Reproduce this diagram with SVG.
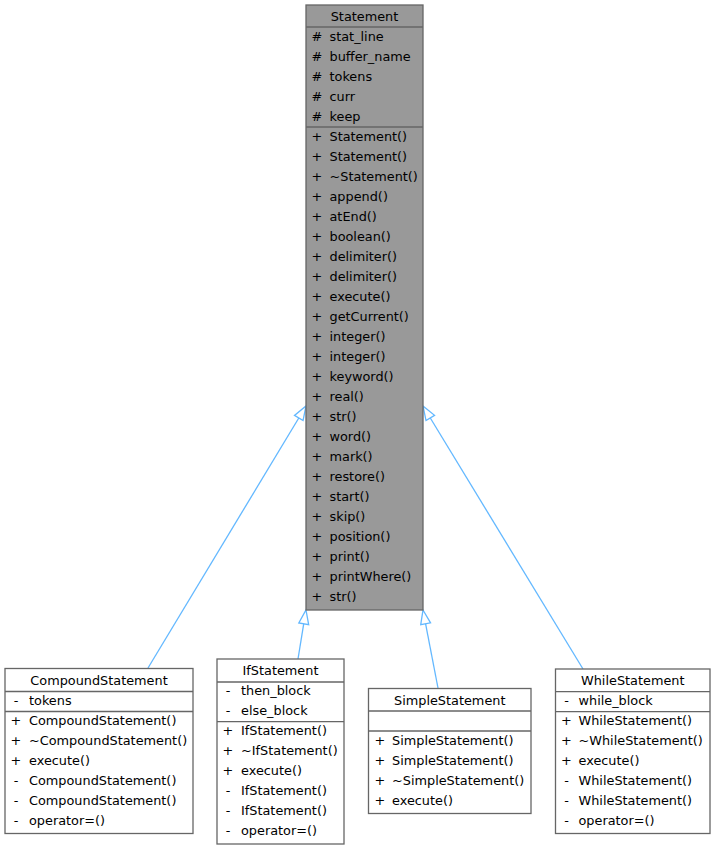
<svg xmlns="http://www.w3.org/2000/svg" width="715" height="849" viewBox="0 0 715 849">
<style>
text{font-family:"DejaVu Sans",sans-serif;font-size:12.85px;fill:#000}
.t{text-anchor:middle}
.s{text-anchor:middle}
.box{fill:#fff;stroke:#666;stroke-width:1.3}
.base{fill:#999;stroke:#666;stroke-width:1.3}
.div{stroke:#666;stroke-width:1.3}
.edge{fill:none;stroke:#63b8ff;stroke-width:1.3}
.head{fill:none;stroke:#63b8ff;stroke-width:1.3}
</style>
<rect width="715" height="849" fill="#fff"/>
<g id="edges">
<path class="edge" d="M148,668 L298.8,418"/>
<polygon class="head" points="306,406 303.05,420.57 294.49,415.41"/>
<path class="edge" d="M298,659 L303.7,623.8"/>
<polygon class="head" points="306,610 308.67,624.63 298.81,623.01"/>
<path class="edge" d="M438,688 L425.6,623.8"/>
<polygon class="head" points="423,610 430.55,622.81 420.73,624.69"/>
<path class="edge" d="M583,669 L430.3,418"/>
<polygon class="head" points="423,406 434.55,415.36 426.01,420.56"/>
</g>
<g id="Statement">
<rect class="base" x="306" y="5" width="117" height="605"/>
<line class="div" x1="306" y1="27" x2="423" y2="27"/>
<line class="div" x1="306" y1="127" x2="423" y2="127"/>
<text class="t" x="364.5" y="20.5">Statement</text>
<g>
<text class="s" x="317" y="40.5">#</text><text x="329.5" y="40.5">stat_line</text>
<text class="s" x="317" y="60.5">#</text><text x="329.5" y="60.5">buffer_name</text>
<text class="s" x="317" y="80.5">#</text><text x="329.5" y="80.5">tokens</text>
<text class="s" x="317" y="100.5">#</text><text x="329.5" y="100.5">curr</text>
<text class="s" x="317" y="120.5">#</text><text x="329.5" y="120.5">keep</text>
<text class="s" x="317" y="140.5">+</text><text x="329.5" y="140.5">Statement()</text>
<text class="s" x="317" y="160.5">+</text><text x="329.5" y="160.5">Statement()</text>
<text class="s" x="317" y="180.5">+</text><text x="329.5" y="180.5">~Statement()</text>
<text class="s" x="317" y="200.5">+</text><text x="329.5" y="200.5">append()</text>
<text class="s" x="317" y="220.5">+</text><text x="329.5" y="220.5">atEnd()</text>
<text class="s" x="317" y="240.5">+</text><text x="329.5" y="240.5">boolean()</text>
<text class="s" x="317" y="260.5">+</text><text x="329.5" y="260.5">delimiter()</text>
<text class="s" x="317" y="280.5">+</text><text x="329.5" y="280.5">delimiter()</text>
<text class="s" x="317" y="300.5">+</text><text x="329.5" y="300.5">execute()</text>
<text class="s" x="317" y="320.5">+</text><text x="329.5" y="320.5">getCurrent()</text>
<text class="s" x="317" y="340.5">+</text><text x="329.5" y="340.5">integer()</text>
<text class="s" x="317" y="360.5">+</text><text x="329.5" y="360.5">integer()</text>
<text class="s" x="317" y="380.5">+</text><text x="329.5" y="380.5">keyword()</text>
<text class="s" x="317" y="400.5">+</text><text x="329.5" y="400.5">real()</text>
<text class="s" x="317" y="420.5">+</text><text x="329.5" y="420.5">str()</text>
<text class="s" x="317" y="440.5">+</text><text x="329.5" y="440.5">word()</text>
<text class="s" x="317" y="460.5">+</text><text x="329.5" y="460.5">mark()</text>
<text class="s" x="317" y="480.5">+</text><text x="329.5" y="480.5">restore()</text>
<text class="s" x="317" y="500.5">+</text><text x="329.5" y="500.5">start()</text>
<text class="s" x="317" y="520.5">+</text><text x="329.5" y="520.5">skip()</text>
<text class="s" x="317" y="540.5">+</text><text x="329.5" y="540.5">position()</text>
<text class="s" x="317" y="560.5">+</text><text x="329.5" y="560.5">print()</text>
<text class="s" x="317" y="580.5">+</text><text x="329.5" y="580.5">printWhere()</text>
<text class="s" x="317" y="600.5">+</text><text x="329.5" y="600.5">str()</text>
</g>
</g>
<g id="CompoundStatement">
<rect class="box" x="5" y="668.5" width="188" height="165"/>
<line class="div" x1="5" y1="691.5" x2="193" y2="691.5"/>
<line class="div" x1="5" y1="711.5" x2="193" y2="711.5"/>
<text class="t" x="99" y="684.5">CompoundStatement</text>
<text class="s" x="16" y="704.5">-</text><text x="29" y="704.5">tokens</text>
<text class="s" x="16" y="724.5">+</text><text x="29" y="724.5">CompoundStatement()</text>
<text class="s" x="16" y="744.5">+</text><text x="29" y="744.5">~CompoundStatement()</text>
<text class="s" x="16" y="764.5">+</text><text x="29" y="764.5">execute()</text>
<text class="s" x="16" y="784.5">-</text><text x="29" y="784.5">CompoundStatement()</text>
<text class="s" x="16" y="804.5">-</text><text x="29" y="804.5">CompoundStatement()</text>
<text class="s" x="16" y="824.5">-</text><text x="29" y="824.5">operator=()</text>
</g>
<g id="IfStatement">
<rect class="box" x="217" y="659" width="127" height="185"/>
<line class="div" x1="217" y1="682" x2="344" y2="682"/>
<line class="div" x1="217" y1="721.7" x2="344" y2="721.7"/>
<text class="t" x="280.5" y="675.2">IfStatement</text>
<text class="s" x="228" y="695.2">-</text><text x="241" y="695.2">then_block</text>
<text class="s" x="228" y="715.2">-</text><text x="241" y="715.2">else_block</text>
<text class="s" x="228" y="735.2">+</text><text x="241" y="735.2">IfStatement()</text>
<text class="s" x="228" y="755.2">+</text><text x="241" y="755.2">~IfStatement()</text>
<text class="s" x="228" y="775.2">+</text><text x="241" y="775.2">execute()</text>
<text class="s" x="228" y="795.2">-</text><text x="241" y="795.2">IfStatement()</text>
<text class="s" x="228" y="815.2">-</text><text x="241" y="815.2">IfStatement()</text>
<text class="s" x="228" y="835.2">-</text><text x="241" y="835.2">operator=()</text>
</g>
<g id="SimpleStatement">
<rect class="box" x="368.5" y="688.5" width="162.5" height="125"/>
<line class="div" x1="368.5" y1="711" x2="531" y2="711"/>
<line class="div" x1="368.5" y1="731" x2="531" y2="731"/>
<text class="t" x="449.75" y="704.5">SimpleStatement</text>
<text class="s" x="380" y="744.5">+</text><text x="392" y="744.5">SimpleStatement()</text>
<text class="s" x="380" y="764.5">+</text><text x="392" y="764.5">SimpleStatement()</text>
<text class="s" x="380" y="784.5">+</text><text x="392" y="784.5">~SimpleStatement()</text>
<text class="s" x="380" y="804.5">+</text><text x="392" y="804.5">execute()</text>
</g>
<g id="WhileStatement">
<rect class="box" x="555.5" y="669" width="154.5" height="164.5"/>
<line class="div" x1="555.5" y1="691.7" x2="710" y2="691.7"/>
<line class="div" x1="555.5" y1="711.7" x2="710" y2="711.7"/>
<text class="t" x="632.75" y="684.5">WhileStatement</text>
<text class="s" x="566.5" y="704.5">-</text><text x="578.5" y="704.5">while_block</text>
<text class="s" x="566.5" y="724.5">+</text><text x="578.5" y="724.5">WhileStatement()</text>
<text class="s" x="566.5" y="744.5">+</text><text x="578.5" y="744.5">~WhileStatement()</text>
<text class="s" x="566.5" y="764.5">+</text><text x="578.5" y="764.5">execute()</text>
<text class="s" x="566.5" y="784.5">-</text><text x="578.5" y="784.5">WhileStatement()</text>
<text class="s" x="566.5" y="804.5">-</text><text x="578.5" y="804.5">WhileStatement()</text>
<text class="s" x="566.5" y="824.5">-</text><text x="578.5" y="824.5">operator=()</text>
</g>
</svg>
